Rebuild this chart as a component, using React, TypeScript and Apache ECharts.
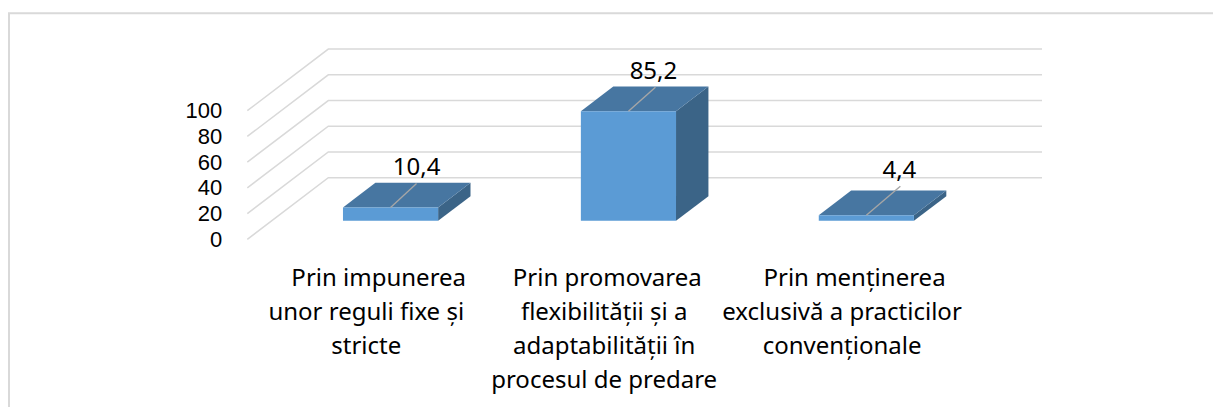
import React, { useEffect, useRef } from "react";
import * as echarts from "echarts";

const categories = [
  "\u00a0\u00a0\u00a0\u00a0Prin impunerea\nunor reguli fixe și\nstricte",
  "\u00a0Prin promovarea\nflexibilității și a\nadaptabilității în\nprocesul de predare",
  "\u00a0\u00a0\u00a0\u00a0Prin menținerea\nexclusivă a practicilor\nconvenționale",
];
const values = [10.4, 85.2, 4.4];
const valueLabels = ["10,4", "85,2", "4,4"];
const yTicks = [0, 20, 40, 60, 80, 100];

const FONT = "Noto Sans";
const FONT_SIZE = 24;
const CAT_FONT_SIZE = 24;
const TEXT = "#000000";

export default function App() {
  const ref = useRef<HTMLDivElement>(null);
  useEffect(() => {
    document.body.style.margin = "0";
    const chart = echarts.init(ref.current!, undefined, { renderer: "svg" });

    // Projection of the floor onto the screen
    const floorDX = 81, floorDY = -61.6;
    const barNear = 0.3, barFar = 0.7;
    const barFill = 0.4; // share of the band
    const leader = [
      { dx: 26, dy: -24, lx: 26, ly: -42 },
      { dx: 27, dy: -24, lx: 25, ly: -42 },
      { dx: 34, dy: -29, lx: 33, ly: -47 },
    ];

    const option: any = {
      animation: false,
      backgroundColor: "#ffffff",
      grid: { left: 247.3, width: 713.7, top: 110.7, height: 128.6, containLabel: false },
      xAxis: {
        type: "category",
        data: categories,
        axisLine: { show: false },
        axisTick: { show: false },
        splitLine: { show: false },
        axisLabel: {
          interval: 0,
          color: TEXT,
          fontFamily: FONT,
          fontSize: CAT_FONT_SIZE,
          lineHeight: 34,
          margin: 20,
          verticalAlign: "top",
        },
      },
      yAxis: {
        type: "value",
        min: 0,
        max: 100,
        interval: 20,
        axisLine: { show: false },
        axisTick: { show: false },
        splitLine: { show: false },
        axisLabel: {
          color: TEXT,
          fontFamily: "Liberation Sans",
          fontSize: 22,
          lineHeight: 24,
          margin: 25,
        },
      },
      series: [
        {
          type: "custom",
          silent: true,
          z: 1,
          coordinateSystem: "cartesian2d",
          data: yTicks.map((t) => [0, t]),
          renderItem: (_p: any, api: any) => {
            const [, y] = api.coord([0, api.value(1)]);
            const gx = 247.3;
            return {
              type: "polyline",
              shape: {
                points: [
                  [gx, y],
                  [gx + floorDX, y + floorDY],
                  [1042, y + floorDY],
                ],
              },
              style: { fill: "none", stroke: "#d9d9d9", lineWidth: 1.5 },
            };
          },
        },
        {
          type: "custom",
          silent: true,
          z: 2,
          coordinateSystem: "cartesian2d",
          data: values.map((v, i) => [i, v]),
          renderItem: (p: any, api: any) => {
            const i = api.value(0);
            const val = api.value(1);
            const band = api.size([1, 0])[0];
            const [cx] = api.coord([i, 0]);
            const [, y0] = api.coord([0, 0]);
            const [, yv] = api.coord([0, val]);
            const nearX = barNear * floorDX, nearY = barNear * floorDY;
            const dX = (barFar - barNear) * floorDX, dY = (barFar - barNear) * floorDY;
            const w = band * barFill;
            const xl = cx + nearX - w / 2;
            const xr = xl + w;
            const yb = y0 + nearY;
            const yt = yv + nearY;
            const L = leader[p.dataIndex];
            const midx = (xl + xr) / 2;
            return {
              type: "group",
              children: [
                {
                  type: "polygon",
                  shape: { points: [[xr, yb], [xr + dX, yb + dY], [xr + dX, yt + dY], [xr, yt]] },
                  style: { fill: "#3b6487" },
                },
                {
                  type: "polygon",
                  shape: { points: [[xl, yt], [xr, yt], [xr + dX, yt + dY], [xl + dX, yt + dY]] },
                  style: { fill: "#4776a1" },
                },
                {
                  type: "rect",
                  shape: { x: xl, y: yt, width: w, height: yb - yt },
                  style: { fill: "#5b9bd5" },
                },
                {
                  type: "line",
                  shape: { x1: midx, y1: yt, x2: midx + L.dx, y2: yt + L.dy },
                  style: { stroke: "#a6a6a6", lineWidth: 1.4 },
                },
                {
                  type: "text",
                  x: midx + L.lx,
                  y: yt + L.ly,
                  style: {
                    text: valueLabels[p.dataIndex],
                    fill: TEXT,
                    font: `${FONT_SIZE}px ${FONT}`,
                    align: "center",
                    verticalAlign: "middle",
                  },
                },
              ],
            };
          },
        },
      ],
      graphic: [
        {
          type: "polyline",
          silent: true,
          shape: { points: [[9, 407], [9, 13.3], [1213, 13.3]] },
          style: { fill: "none", stroke: "#d9d9d9", lineWidth: 2 },
        },
      ],
    };
    chart.setOption(option);
    return () => chart.dispose();
  }, []);
  return <div ref={ref} style={{ width: 1213, height: 407 }} />;
}
